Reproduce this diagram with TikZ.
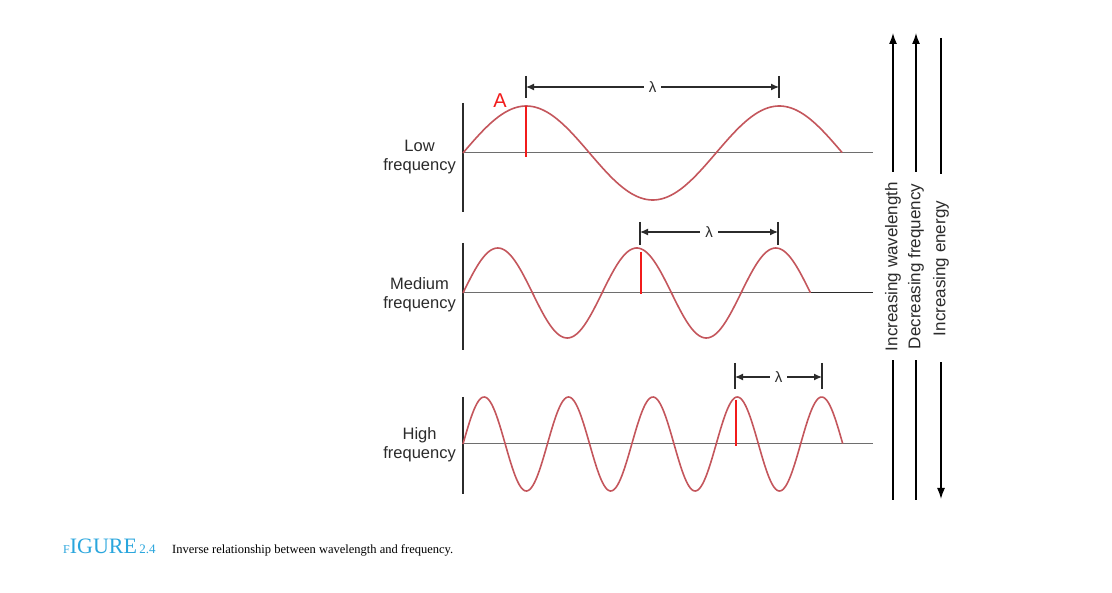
\documentclass[tikz,border=0pt]{standalone}
\usepackage{fontspec}
\setmainfont{Liberation Serif}
\setsansfont{Liberation Sans}
\usetikzlibrary{arrows.meta}
\definecolor{ink}{HTML}{2B2B2B}
\definecolor{grid}{HTML}{6E6E6E}
\definecolor{wave}{HTML}{C4565C}
\definecolor{flag}{HTML}{F21B1B}
\definecolor{capblue}{HTML}{2AA6DD}
\newcommand{\fsz}[1]{\fontsize{#1}{#1}\selectfont}
\tikzset{
  axs/.style ={draw=ink,  line width=1.3pt},
  bas/.style ={draw=grid, line width=1pt},
  wv/.style  ={draw=wave, line width=1.6pt, line join=round},
  flg/.style ={draw=flag, line width=2.6pt},
  tck/.style ={draw=ink,  line width=1.3pt},
  dim/.style ={draw=ink,  line width=1.2pt, {Latex[length=8pt,width=7pt]}-{Latex[length=8pt,width=7pt]}},
  lam/.style ={fill=white, inner sep=5pt, font=\sffamily\fsz{15}, text=ink},
  lbl/.style ={font=\sffamily\fontsize{16.5}{19}\selectfont, align=center, anchor=east, inner sep=0pt, text=ink},
  sarr/.style={draw=black, line width=1.4pt, -{Latex[length=11pt,width=8pt]}},
  side/.style={fill=white, rotate=90, minimum width=188pt, inner sep=0pt, font=\sffamily\fsz{17}, text=ink},
}
\begin{document}
\begin{tikzpicture}[x=1pt,y=-1pt]
    \useasboundingbox[fill=white] (0,0) rectangle (1112,593);

    \node[lbl] (lowlbl) at (456,157) {Low\\frequency};
    \draw[axs] (463,103) -- (463,212);
    \draw[bas] (463,153) -- (873,153);
    \draw[wv] plot[domain=0:1.5,samples=150] ({463+253*\x},{153-47*sin(360*\x)});
    \draw[tck] (526,76) -- (526,98);
    \draw[tck] (779,76) -- (779,98);
    \coordinate (lo1) at (526,87);
    \coordinate (lo2) at (779,87);
    \draw[dim] (lo1) -- node[lam] (lolam) {λ} (lo2);
    \draw[flg] (526,106) -- (526,157);
    \node[font=\sffamily\fsz{20}, text=flag, inner sep=0pt] (pa) at (500,101) {A};

    \node[lbl] (medlbl) at (456,295) {Medium\\frequency};
    \draw[axs] (463,243) -- (463,350);
    \draw[bas] (463,293) -- (811,293);
    \draw[draw=ink, line width=1pt] (811,293) -- (873,293);
    \draw[wv] plot[domain=0:2.5,samples=200] ({463+139*\x},{293-45*sin(360*\x)});
    \draw[tck] (640,222) -- (640,245);
    \draw[tck] (778,222) -- (778,245);
    \coordinate (me1) at (640,232);
    \coordinate (me2) at (778,232);
    \draw[dim] (me1) -- node[lam] (melam) {λ} (me2);
    \draw[flg] (641,252) -- (641,294);

    \node[lbl] (highlbl) at (456,445) {High\\frequency};
    \draw[axs] (463,397) -- (463,494);
    \draw[bas] (463,444) -- (873,444);
    \draw[wv] plot[domain=0:4.5,samples=300] ({463+84.4*\x},{444-47*sin(360*\x)});
    \draw[tck] (735,363) -- (735,389);
    \draw[tck] (822,363) -- (822,389);
    \coordinate (hi1) at (735,377);
    \coordinate (hi2) at (822,377);
    \draw[dim] (hi1) -- node[lam] (hilam) {λ} (hi2);
    \draw[flg] (736,400) -- (736,446);

    \coordinate (wl0) at (893,500);
    \coordinate (wl1) at (893,33);
    \coordinate (fq0) at (916,500);
    \coordinate (fq1) at (916,33);
    \coordinate (en0) at (941,38);
    \coordinate (en1) at (941,499);
    \draw[sarr] (wl0) -- node[side] (wltxt) {Increasing wavelength} (wl1);
    \draw[sarr] (fq0) -- node[side] (fqtxt) {Decreasing frequency} (fq1);
    \draw[sarr] (en0) -- node[side] (entxt) {Increasing energy} (en1);

    \node[anchor=base west, inner sep=0pt, text=capblue] (figtag) at (63,554)
      {\fsz{12}F\fsz{22}IGURE\fsz{13}\,2.4};
    \node[anchor=base west, inner sep=0pt, font=\fsz{12.5}] (captxt) at (172,554)
      {Inverse relationship between wavelength and frequency.};
  \end{tikzpicture}
\end{document}
